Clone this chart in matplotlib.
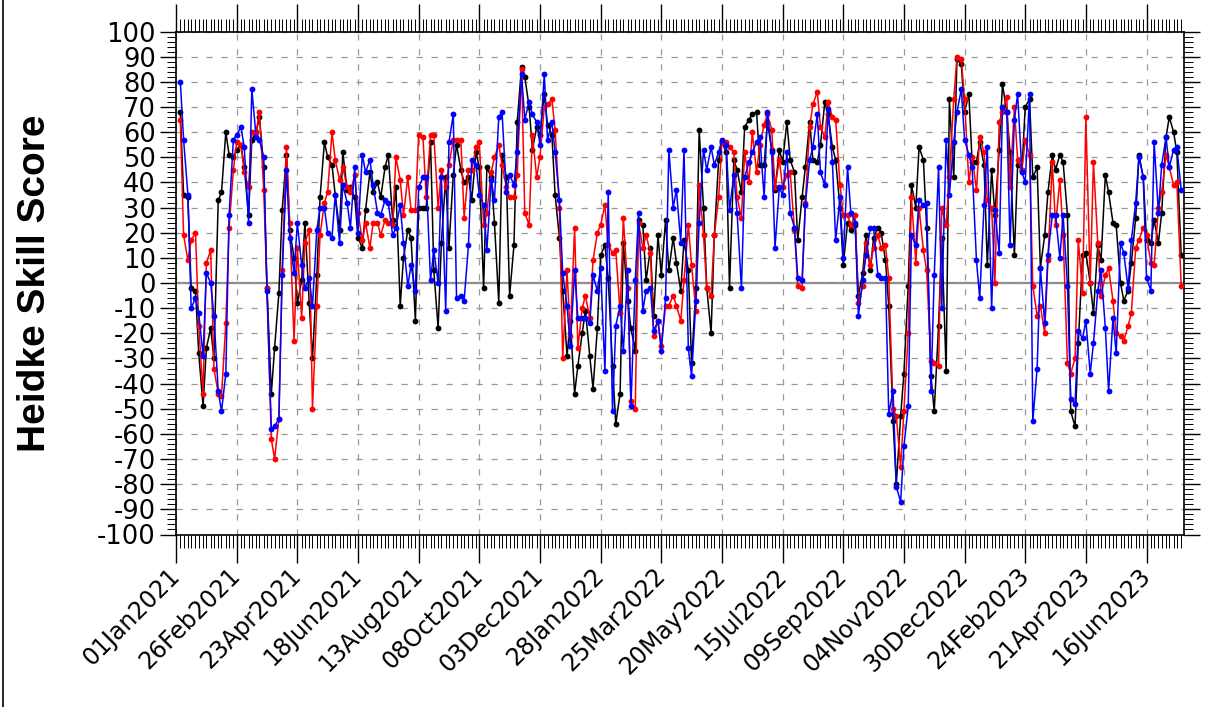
import numpy as np
import pandas as pd
import matplotlib
matplotlib.use("Agg")
import matplotlib.pyplot as plt
import matplotlib.dates as mdates
from matplotlib.lines import Line2D
from matplotlib.ticker import MultipleLocator, FixedLocator

# ---- data (Heidke Skill Score, twice-weekly) ----
black_hss = [68, 35, 34, -2, -3, -28, -49, -26, -18, -30, 33, 36, 60, 51, 50, 53, 55, 46, 27, 57,
             60, 66, 46, -2, -44, -26, -4, 29, 51, 21, 10, -8, 1, 24, -8, -30, 3, 34, 56, 50,
             47, 35, 21, 52, 37, 38, 34, 18, 14, 29, 44, 36, 40, 34, 46, 51, 25, 38, -9, 10,
             21, 18, -15, 30, 30, 30, 56, 5, -18, 16, 42, 14, 43, 55, 45, 40, 42, 33, 52, 46,
             -2, 46, 42, 24, -8, 51, 42, -5, 15, 64, 86, 82, 70, 53, 62, 59, 75, 63, 59, 35,
             18, -3, -29, -15, -44, -33, -20, -11, -29, -42, -18, 11, 15, 2, -33, -56, -44, 16, -7, -18,
             -27, 25, 23, 1, 14, -13, 19, 3, 25, 5, 18, 8, -3, 17, 5, -32, -2, 61, 30, -2,
             -20, 19, 49, 56, 52, -2, 49, 45, 36, 62, 65, 67, 68, 47, 47, 64, 53, 37, 53, 48,
             64, 49, 44, 17, 34, 46, 64, 49, 48, 55, 72, 67, 54, 49, 30, 7, 24, 21, 23, -5,
             4, 19, 5, 18, 22, 20, 9, -9, -55, -80, -53, -36, -1, 39, 30, 54, 49, 22, -37, -51,
             -17, 18, -35, 73, 42, 89, 87, 68, 75, 48, 48, 56, 47, 7, 45, 27, 53, 79, 68, 52,
             11, 47, 45, 70, 73, 42, 46, 6, 19, 36, 51, 45, 51, 48, 27, -51, -57, -24, 11, 12,
             0, -12, 15, 9, 43, 36, 24, 23, 0, -7, -3, 8, 26, 51, 42, 17, 16, 25, 16, 28,
             58, 66, 60, 52, 11]

red_hss = [65, 19, 9, 17, 20, -17, -44, 8, 13, -34, -44, -45, -16, 22, 45, 56, 55, 44, 38, 60,
           60, 68, 37, -2, -62, -70, -54, 5, 54, 24, -23, 14, -14, 16, 21, -50, -9, 19, 32, 36,
           60, 49, 41, 46, 38, 36, 43, 28, 17, 24, 14, 24, 24, 19, 25, 24, 23, 50, 41, 27,
           42, 29, 29, 59, 58, 34, 59, 59, 30, 45, 38, 47, 57, 57, 57, 26, 45, 45, 54, 56,
           23, 28, 44, 50, 55, 47, 38, 34, 34, 43, 85, 28, 23, 59, 42, 50, 70, 71, 73, 61,
           30, -30, 5, -21, 22, -26, -10, -5, -14, 9, 20, 23, 31, 15, 12, 13, -12, 26, -2, -47,
           -50, 24, 14, 19, 12, -21, -15, -25, -9, -9, -5, -9, -15, 1, 23, 7, -11, 39, 19, -2,
           -5, 19, 34, 56, 56, 54, 52, 34, 26, 52, 40, 60, 44, 55, 63, 67, 61, 38, 49, 38,
           43, 44, 21, -1, -2, 32, 62, 71, 76, 62, 58, 72, 66, 65, 39, 27, 27, 23, 27, -8,
           -1, 16, 7, 14, 19, 14, 15, 2, -50, -53, -73, -51, -20, 34, 8, 30, 13, 5, -31, -32,
           -33, 30, 23, 42, 73, 90, 89, 73, 40, 50, 37, 58, 52, 33, 30, 0, 64, 68, 74, 38,
           70, 49, 45, 57, 51, -1, -13, -9, -20, 9, 48, 23, 41, 19, -32, -36, -30, 17, -4, 66,
           0, 48, 16, -5, 3, 6, -7, -20, -21, -23, -17, -12, 14, 17, 22, 19, 8, 7, 30, 36,
           51, 46, 39, 40, -1]

blue_hss = [80, 57, 35, -10, -6, -12, -29, 4, 0, -13, -43, -51, -36, 27, 57, 59, 62, 54, 24, 77,
            58, 57, 50, -3, -58, -57, -54, 3, 45, 18, 4, 24, 7, -2, 2, -9, 21, 30, 30, 20,
            18, 35, 16, 39, 32, 22, 46, 20, 51, 44, 49, 39, 28, 27, 33, 32, 19, 22, 31, 16,
            -1, 7, -3, 38, 42, 42, 1, 13, 0, 42, -11, 56, 67, -6, -5, -7, 15, 49, 47, 35,
            31, 13, 41, 33, 66, 68, 36, 43, 39, 52, 83, 65, 72, 67, 64, 55, 83, 57, 64, 52,
            33, 4, -9, -25, 5, -14, -14, -14, -16, 3, -3, 6, -35, 36, -51, -17, -9, -27, 5, -49,
            1, 28, -11, -3, -2, -19, -15, -27, -6, 53, 30, 37, 16, 53, -26, -37, -7, 24, 53, 45,
            54, 47, 52, 57, 55, 29, 43, 28, -2, 42, 48, 52, 56, 58, 34, 68, 52, 14, 38, 35,
            52, 28, 22, 2, 1, 31, 49, 54, 67, 44, 39, 69, 48, 17, 34, 10, 46, 28, 24, -13,
            1, 11, 22, 22, 3, 2, 2, -52, -43, -81, -87, -65, -49, 19, 15, 33, 31, 32, -43, 3,
            46, -10, 57, 35, 56, 68, 77, 57, 51, 46, 9, -6, 31, 54, -10, 29, 12, 70, 68, 15,
            65, 75, 44, 40, 75, -55, -34, 6, -16, 11, 27, 27, 10, 27, -1, -46, -48, -19, -22, -15,
            -36, -24, -3, 5, -18, -43, -14, -28, 16, 12, -2, 17, 32, 50, 42, 2, -3, 56, 28, 47,
            58, 46, 53, 54, 37]

n = len(black_hss)
tue = pd.date_range("2021-01-05", periods=140, freq="W-TUE")
fri = pd.date_range("2021-01-08", periods=140, freq="W-FRI")
dates = tue.append(fri).sort_values()[:n]

major_dates = pd.date_range("2021-01-01", periods=17, freq="56D")
tick_labels = [d.strftime("%d%b%Y") for d in major_dates]
y_ticks = list(range(-100, 101, 10))

# ---- figure ----
W, H = 1209, 707
fig = plt.figure(figsize=(W / 100, H / 100), dpi=100)
left, right, top, bottom = 176, 1184, 31.5, 534.5
ax = fig.add_axes([left / W, 1 - bottom / H, (right - left) / W, (bottom - top) / H])

ax.axhline(0, color="0.55", lw=1.6, zorder=1)

series = [(black_hss, "black"), (red_hss, "red"), (blue_hss, "blue")]
for vals, col in series:
    ax.plot(dates, vals, color=col, lw=1.1, marker="o", markersize=4.2,
            markeredgewidth=0, zorder=3)

ax.set_ylim(-100, 100)
x0 = pd.Timestamp("2021-01-01")
ax.set_xlim(x0, x0 + pd.Timedelta(days=930.6))

ax.set_yticks(y_ticks)
ax.set_yticklabels([str(v) for v in y_ticks])
ax.yaxis.set_minor_locator(MultipleLocator(2))

ax.set_xticks(major_dates)
ax.set_xticklabels(tick_labels, rotation=45, ha="right", va="center",
                   rotation_mode="anchor")
ax.xaxis.set_minor_locator(FixedLocator(mdates.date2num(dates)))

ax.grid(True, which="major", color="0.6", lw=0.9, linestyle=(0, (5, 7)))

for s in ax.spines.values():
    s.set_linewidth(1.2)

ax.tick_params(axis="x", which="major", direction="out", length=20, width=1.0,
               top=True, bottom=True, labelsize=17, pad=7)
ax.tick_params(axis="x", which="minor", direction="out", length=9.5, width=0.7,
               top=True, bottom=True)
ax.tick_params(axis="y", which="major", direction="out", length=11.5, width=1.0,
               left=True, right=True, labelsize=18.5, pad=3)
ax.tick_params(axis="y", which="minor", direction="out", length=6.5, width=0.7,
               left=True, right=True)
for lab in ax.get_yticklabels() + ax.get_xticklabels():
    lab.set_family("DejaVu Sans")

fig.text(35 / W, 1 - 283 / H, "Heidke Skill Score", rotation=90, fontsize=28,
         fontweight="bold", family="Liberation Sans", ha="center", va="center")

fig.add_artist(Line2D([2.5 / W, 2.5 / W], [0, 1], color="black", lw=1.2,
                      transform=fig.transFigure))

fig.savefig("out.png", dpi=100)
